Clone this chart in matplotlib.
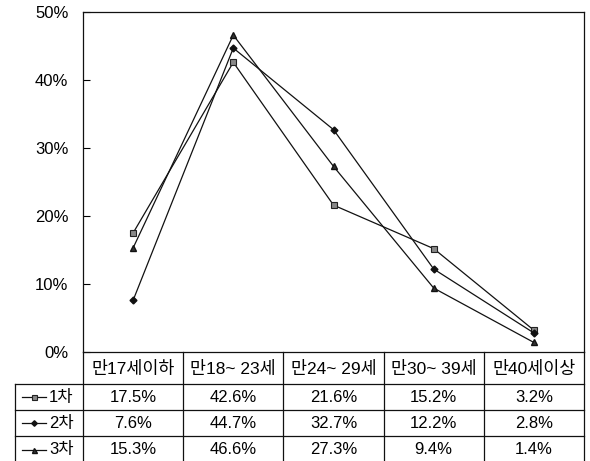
import numpy as np
import matplotlib.pyplot as plt
from matplotlib.lines import Line2D

plt.rcParams['font.family'] = ['Liberation Sans', 'Noto Sans CJK KR']

categories = ['만17세이하', '만18~ 23세', '만24~ 29세', '만30~ 39세', '만40세이상']
series_names = ['1차', '2차', '3차']
s1 = [17.5, 42.6, 21.6, 15.2, 3.2]
s2 = [7.6, 44.7, 32.7, 12.2, 2.8]
s3 = [15.3, 46.6, 27.3, 9.4, 1.4]
yticks = [0, 10, 20, 30, 40, 50]

W, H = 590, 461
fig = plt.figure(figsize=(W / 100, H / 100), dpi=100)

# pixel helpers (top-left origin)
def fx(px):
    return px / W

def fy(py):
    return 1 - py / H

ax_l, ax_r, ax_t, ax_b = 83, 584, 12, 352
ax = fig.add_axes([fx(ax_l), fy(ax_b), fx(ax_r - ax_l), (ax_b - ax_t) / H])

styles = [
    dict(marker='s', markersize=4.5, markerfacecolor='#888888', markeredgecolor='#222222', markeredgewidth=0.8),
    dict(marker='D', markersize=3.5, markerfacecolor='#111111', markeredgecolor='#111111'),
    dict(marker='^', markersize=4.5, markerfacecolor='#333333', markeredgecolor='#111111'),
]
x = np.arange(len(categories))
for vals, st in zip([s1, s2, s3], styles):
    ax.plot(x, vals, color='#111111', linewidth=0.9, **st)

ax.set_xlim(-0.5, len(categories) - 0.5)
ax.set_ylim(0, 50)
ax.set_yticks(yticks)
ax.set_yticklabels([f'{t}%' for t in yticks], fontsize=12)
ax.set_xticks([])
ax.tick_params(axis='y', direction='in', length=5, width=0.8, pad=10.5)
for sp in ax.spines.values():
    sp.set_linewidth(0.9)
    sp.set_color('#111111')

# data table below the axes
col_w = (ax_r - ax_l) / len(categories)
row_edges = [352, 384, 410, 436, 463]
tab_l = 15
lc = '#111111'
lw = 0.9

def hline(y, x0, x1):
    fig.add_artist(Line2D([fx(x0), fx(x1)], [fy(y), fy(y)], color=lc, linewidth=lw))

def vline(xp, y0, y1):
    fig.add_artist(Line2D([fx(xp), fx(xp)], [fy(y0), fy(y1)], color=lc, linewidth=lw))

hline(row_edges[1], tab_l, ax_r)
hline(row_edges[2], tab_l, ax_r)
hline(row_edges[3], tab_l, ax_r)
for i in range(len(categories) + 1):
    vline(ax_l + i * col_w, row_edges[0], row_edges[-1])
vline(tab_l, row_edges[1], row_edges[-1])

for i, c in enumerate(categories):
    fig.text(fx(ax_l + (i + 0.5) * col_w), fy((row_edges[0] + row_edges[1]) / 2 + 1), c,
             ha='center', va='center', fontsize=12.5)

for r, (name, vals, st) in enumerate(zip(series_names, [s1, s2, s3], styles)):
    yc = (row_edges[r + 1] + row_edges[r + 2]) / 2
    key = dict(st)
    key['markersize'] = key['markersize'] * 0.8
    fig.add_artist(Line2D([fx(22), fx(34), fx(46)], [fy(yc)] * 3, color=lc, linewidth=0.9,
                          markevery=[1], **key))
    fig.text(fx(49), fy(yc), name, ha='left', va='center', fontsize=12)
    for i, v in enumerate(vals):
        fig.text(fx(ax_l + (i + 0.5) * col_w), fy(yc), f'{v:.1f}%',
                 ha='center', va='center', fontsize=12)

fig.savefig('out.png', dpi=100)
